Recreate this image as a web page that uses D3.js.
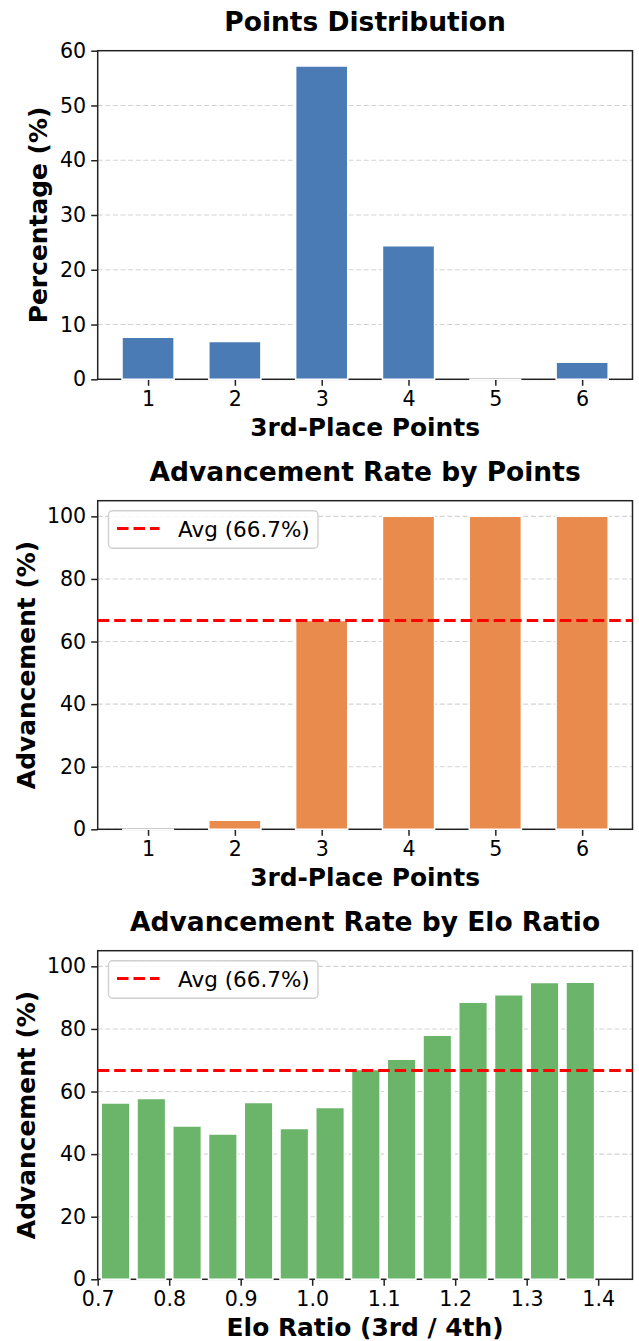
<!DOCTYPE html>
<html>
<head>
<meta charset="utf-8">
<script src="https://cdn.jsdelivr.net/npm/d3@7/dist/d3.min.js"></script>
<style>
  html, body { margin: 0; padding: 0; background: #fff; }
  svg { display: block; }
  text { font-family: "DejaVu Sans", sans-serif; fill: #000; }
</style>
</head>
<body>
<svg id="chart" width="639" height="1341"></svg>
<script>
// ---------------- data ----------------
const pointCategories = [1, 2, 3, 4, 5, 6];
const pointsDistribution = [7.7, 6.9, 57.2, 24.4, 0, 3.1];
const advancementByPoints = [0, 2.9, 66.7, 100, 100, 100];
const eloBinCenters = [0.725, 0.775, 0.825, 0.875, 0.925, 0.975, 1.025, 1.075, 1.125, 1.175, 1.225, 1.275, 1.325, 1.375];
const advancementByElo = [56.3, 57.8, 49.0, 46.4, 56.5, 48.2, 54.9, 67.0, 70.3, 78.0, 88.5, 90.9, 94.8, 94.9];
const averageAdvancement = 66.7;
const distributionTicks = [0, 10, 20, 30, 40, 50, 60];
const advancementTicks = [0, 20, 40, 60, 80, 100];
const eloTicks = [0.7, 0.8, 0.9, 1.0, 1.1, 1.2, 1.3, 1.4];
const titles = ["Points Distribution", "Advancement Rate by Points", "Advancement Rate by Elo Ratio"];
const xLabels = ["3rd-Place Points", "3rd-Place Points", "Elo Ratio (3rd / 4th)"];
const yLabels = ["Percentage (%)", "Advancement (%)", "Advancement (%)"];
const legendLabel = "Avg (66.7%)";

// ---------------- layout ----------------
const svg = d3.select("#chart");
const L = 97.7, R = 632.5, H = 328.6;
const tops = [50.7, 500.7, 950.7];
const colors = ["#4a7bb5", "#e88b4d", "#6bb56b"];

function panel(i, opts) {
  const top = tops[i], bottom = top + H;
  const g = svg.append("g");
  const x = d3.scaleLinear().domain(opts.xDomain).range([L, R]);
  const y = d3.scaleLinear().domain(opts.yDomain).range([bottom, top]);

  // grid
  g.append("g").selectAll("line").data(opts.yTicks.filter(t => y(t) > top + 1)).join("line")
    .attr("x1", L).attr("x2", R).attr("y1", d => y(d)).attr("y2", d => y(d))
    .attr("stroke", "#d3d3d3").attr("stroke-width", 1.1).attr("stroke-dasharray", "5,2.6");

  // y axis
  const yAxis = d3.axisLeft(y).tickValues(opts.yTicks).tickFormat(d3.format("d")).tickSize(6.5).tickPadding(5);
  const ya = g.append("g").attr("transform", `translate(${L},0)`).call(yAxis);
  ya.select(".domain").remove();
  ya.selectAll(".tick line").attr("stroke", "#222").attr("stroke-width", 1.5);
  ya.selectAll(".tick text").attr("font-size", "20.6px").attr("font-family", "DejaVu Sans").attr("fill", "#111");

  // x axis
  const xAxis = d3.axisBottom(x).tickValues(opts.xTicks).tickFormat(opts.xFormat).tickSize(6.5).tickPadding(5);
  const xa = g.append("g").attr("transform", `translate(0,${bottom})`).call(xAxis);
  xa.select(".domain").remove();
  xa.selectAll(".tick line").attr("stroke", "#222").attr("stroke-width", 1.5);
  xa.selectAll(".tick text").attr("font-size", "20.6px").attr("font-family", "DejaVu Sans").attr("fill", "#111").attr("dy", "0.74em");

  // frame
  g.append("rect").attr("x", L).attr("y", top).attr("width", R - L).attr("height", H)
    .attr("fill", "none").attr("stroke", "#222").attr("stroke-width", 1.5);

  // bars (paths so zero-height bars still show their white edge)
  g.append("g").selectAll("path").data(opts.values.map((v, k) => ({ c: opts.centers[k], v }))).join("path")
    .attr("d", d => {
      const x0 = x(d.c - opts.barWidth / 2), x1 = x(d.c + opts.barWidth / 2);
      const y0 = y(0), y1 = y(d.v);
      return `M${x0},${y0}H${x1}V${y1}H${x0}Z`;
    })
    .attr("fill", colors[i]).attr("stroke", "#ffffff").attr("stroke-width", 1.5);

  // average line + legend
  if (opts.avg !== undefined) {
    g.append("line").attr("x1", L).attr("x2", R).attr("y1", y(opts.avg)).attr("y2", y(opts.avg))
      .attr("stroke", "#ff0000").attr("stroke-width", 3).attr("stroke-dasharray", "11.5,5");
    const lg = g.append("g").attr("transform", `translate(108.5,${top + 10})`);
    lg.append("rect").attr("x", 0).attr("y", 0).attr("width", 209.5).attr("height", 37.6).attr("rx", 4)
      .attr("fill", "rgba(255,255,255,0.85)").attr("stroke", "#d0d0d0").attr("stroke-width", 1.4);
    lg.append("line").attr("x1", 8.5).attr("x2", 51).attr("y1", 17.8).attr("y2", 17.8)
      .attr("stroke", "#ff0000").attr("stroke-width", 3).attr("stroke-dasharray", "11.5,5");
    lg.append("text").attr("x", 69.5).attr("y", 26).attr("font-size", "21.5px").attr("fill", "#111").text(legendLabel);
  }

  // title and labels
  g.append("text").attr("x", (L + R) / 2).attr("y", top - 20).attr("text-anchor", "middle")
    .attr("font-size", "26.5px").attr("font-weight", "bold").text(titles[i]);
  g.append("text").attr("x", (L + R) / 2).attr("y", bottom + 56.7).attr("text-anchor", "middle")
    .attr("font-size", "24.9px").attr("font-weight", "bold").text(xLabels[i]);
  g.append("text").attr("transform", `translate(${opts.yLabelX},${top + H / 2}) rotate(-90)`)
    .attr("text-anchor", "middle").attr("font-size", "24.9px").attr("font-weight", "bold").text(yLabels[i]);
}

panel(0, {
  xDomain: [0.42, 6.58], yDomain: [0, 60], yTicks: distributionTicks,
  xTicks: pointCategories, xFormat: d3.format("d"),
  centers: pointCategories, values: pointsDistribution, barWidth: 0.6, yLabelX: 47
});
panel(1, {
  xDomain: [0.42, 6.58], yDomain: [0, 105], yTicks: advancementTicks,
  xTicks: pointCategories, xFormat: d3.format("d"),
  centers: pointCategories, values: advancementByPoints, barWidth: 0.6, yLabelX: 35, avg: averageAdvancement
});
panel(2, {
  xDomain: [0.7, 1.448], yDomain: [0, 105], yTicks: advancementTicks,
  xTicks: eloTicks, xFormat: d3.format(".1f"),
  centers: eloBinCenters, values: advancementByElo, barWidth: 0.04, yLabelX: 35, avg: averageAdvancement
});
</script>
</body>
</html>
